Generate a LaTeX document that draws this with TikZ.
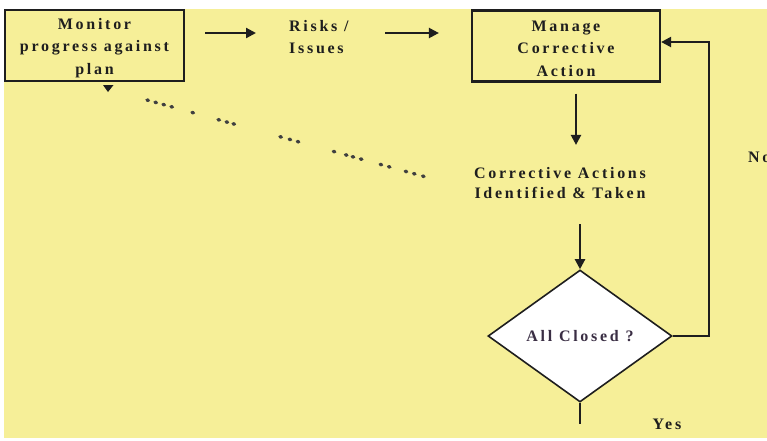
\documentclass[tikz,border=0pt]{standalone}
\usepackage{fontspec}
\setmainfont{Liberation Serif}
\usetikzlibrary{arrows.meta,shapes.geometric}
\definecolor{paper}{HTML}{F6EF98}
\definecolor{ink}{HTML}{1E1E1E}
\definecolor{qink}{HTML}{3A2E44}
% taller first line keeps box text a little below centre
\newcommand{\toplift}{\rule{0pt}{16pt}}
\begin{document}
\begin{tikzpicture}[x=1pt,y=-1pt,
  lbl/.style={font=\fontsize{16}{22.5}\selectfont\bfseries\addfontfeatures{LetterSpace=17}, text=ink, inner sep=0pt},
  box/.style={lbl, draw=ink, line width=2.2pt, minimum height=71pt, align=center},
  flow/.style={draw=ink, line width=2.2pt, -{Triangle[length=10pt,width=10pt]}},
  plain/.style={draw=ink, line width=2.2pt},
  dots/.style={draw=ink!85, line width=3.4pt, line cap=round,
    dash pattern=on 1.5pt off 6.8pt on 1.5pt off 6.8pt on 1.5pt off 6.8pt on 1.5pt off 20.3pt
      on 1.5pt off 25.5pt on 1.5pt off 6.9pt on 1.5pt off 5.7pt on 1.5pt off 47.1pt
      on 1.5pt off 8.1pt on 1.5pt off 6.9pt on 1.5pt off 35.9pt on 1.5pt off 11.1pt
      on 1.5pt off 5.5pt on 1.5pt off 7pt on 1.5pt off 19pt on 1.5pt off 7.1pt
      on 1.5pt off 15.9pt on 1.5pt off 7.1pt on 1.5pt off 7.9pt on 1.5pt off 40pt},
  decision/.style={lbl, shape=diamond, draw=ink, line width=1.6pt, fill=white,
    minimum width=184pt, minimum height=132pt, text=qink}
]
\useasboundingbox (0,0) rectangle (767,440);
\fill[paper] (4,9) rectangle (767,438);

% process boxes
\node[box, minimum width=179pt] (mon) at (94.5,45.5) {\toplift Monitor\\progress against\\plan};
\node[box, minimum width=188pt] (mgr) at (566,46) {\toplift Manage\\Corrective\\Action};

% free-standing labels
\node[lbl, anchor=west, align=left] (risk) at (289,37) {Risks /\\Issues};
\node[lbl, align=center, font=\fontsize{16}{20.5}\selectfont\bfseries\addfontfeatures{LetterSpace=17}] (cat) at (560,183) {Corrective Actions\\Identified \& Taken};
\node[decision] (dia) at (580,336) {All Closed ?};
\node[lbl, anchor=west] (no) at (748,157) {No};
\node[lbl] (yes) at (667,424) {Yes};

% main flow
\draw[flow] ([shift={(20,-12.5)}]mon.east) -- ([shift={(-33,-4)}]risk.west);
\draw[flow] ([shift={(96,-4)}]risk.west) -- ([shift={(-32,-13)}]mgr.west);
\draw[flow] ([shift={(10,11)}]mgr.south) -- ([shift={(16,-22)}]cat.north);
\draw[flow] ([shift={(20,25)}]cat.south) -- (dia.north);

% loop back when not all closed
\draw[flow] (dia.east) -- ++(36,0) |- ([shift={(0,-4)}]mgr.east);

% exit when all closed
\draw[plain] (dia.south) -- ++(0,21) coordinate (exit);

% dotted feedback to monitoring
\coordinate (fb) at (147,100);
\draw[dots] (fb) -- ([shift={(-48,-6)}]cat.west);
\fill[ink] (103,85) -- (113.5,85) -- (108,92) -- cycle;
\end{tikzpicture}
\end{document}
